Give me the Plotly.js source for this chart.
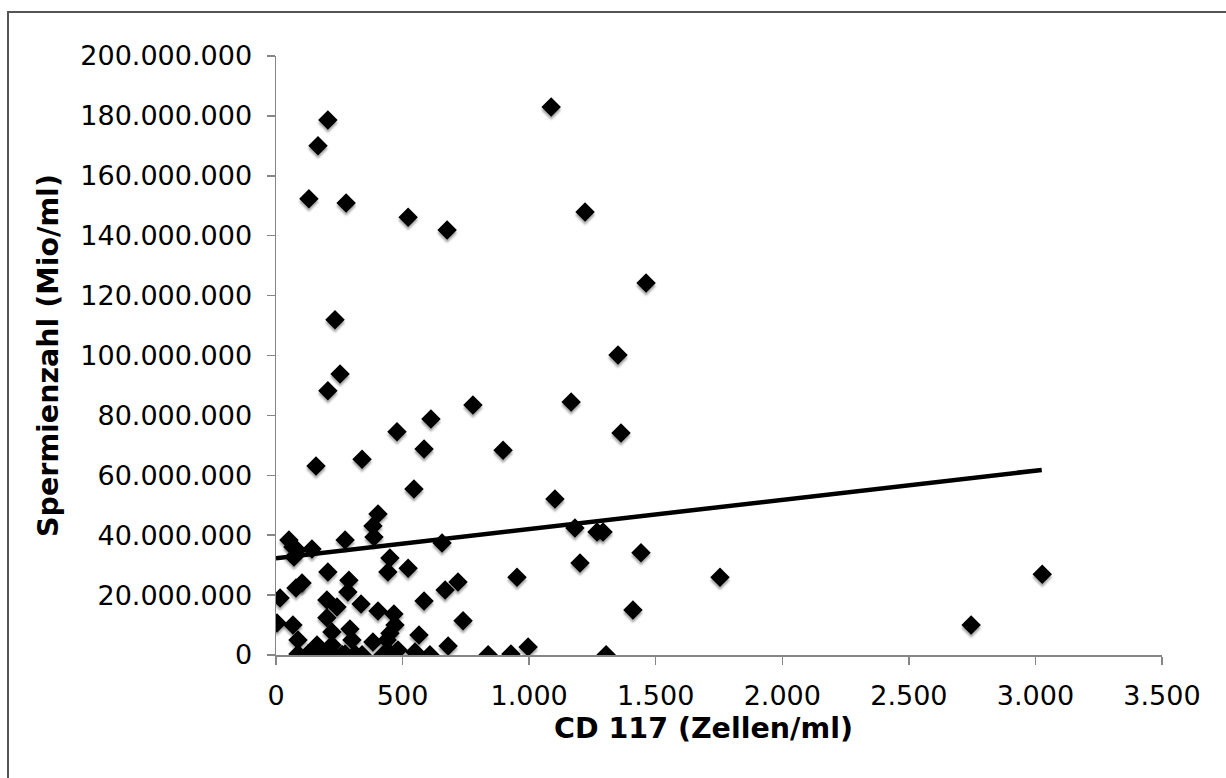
<!DOCTYPE html>
<html>
<head>
<meta charset="utf-8">
<script src="https://cdn.plot.ly/plotly-3.0.1.min.js"></script>
<style>
  html, body { margin: 0; padding: 0; background: #fff; }
  #wrap { position: relative; width: 1226px; height: 778px; overflow: hidden; }
  #chart { width: 1226px; height: 778px; }
  #frame { position: absolute; left: 7px; top: 11px; width: 1300px; height: 900px;
           border-left: 2px solid #555; border-top: 2px solid #555; pointer-events: none; }
  .scatterlayer .trace .points path { filter: drop-shadow(0px 3px 1px rgba(0,0,0,0.35)); }
</style>
</head>
<body>
<div id="wrap">
  <div id="chart"></div>
  <div id="frame"></div>
</div>
<script>
// CD 117 (Zellen/ml)
const cdX = [
  1087, 205, 166, 130, 277, 522, 676, 1221, 1462, 233,
  1351, 253, 205, 778, 1166, 612, 478, 1363, 585, 897,
  340, 158, 545, 1102, 403, 383, 387, 51, 67, 83,
  71, 142, 273, 656, 1181, 1268, 1292, 1201, 1442, 450,
  442, 522, 205, 103, 79, 288, 284, 16, 201, 241,
  336, 403, 585, 668, 719, 952, 1754, 3027, 2746, 1410,
  466, 201, 4, 67, 470, 739, 292, 450, 221, 87,
  300, 439, 565, 383, 162, 221, 680, 996, 482, 549,
  87, 126, 166, 186, 225, 273, 312, 340, 423, 450,
  608, 838, 928, 1304, 261
];
// Spermienzahl (Mio/ml)
const spermY = [
  183000000, 178600000, 170000000, 152300000, 150900000, 146200000, 141900000, 147900000, 124200000, 111900000,
  100200000, 93800000, 88200000, 83500000, 84500000, 78800000, 74500000, 74100000, 68800000, 68400000,
  65400000, 63100000, 55400000, 52100000, 47100000, 43100000, 39400000, 38400000, 36100000, 35100000,
  32700000, 35400000, 38400000, 37400000, 42400000, 41100000, 41100000, 30700000, 34100000, 32400000,
  27700000, 29000000, 27700000, 24000000, 22400000, 25000000, 21000000, 19000000, 18400000, 16000000,
  17000000, 14700000, 18000000, 21700000, 24400000, 26000000, 26000000, 27000000, 10000000, 15000000,
  13700000, 12400000, 10700000, 10000000, 10000000, 11400000, 8700000, 7300000, 7700000, 5000000,
  5000000, 5000000, 6700000, 4300000, 3300000, 3300000, 3000000, 2700000, 1700000, 1000000,
  300000, 300000, 300000, 200000, 300000, 300000, 300000, 100000, 100000, 600000,
  100000, 100000, 300000, 100000, 200000
];
// linear trend line endpoints
const trendX = [0, 3025];
const trendY = [32300000, 61800000];

const xTicks = [0, 500, 1000, 1500, 2000, 2500, 3000, 3500];
const yTicks = [0, 20000000, 40000000, 60000000, 80000000, 100000000, 120000000, 140000000, 160000000, 180000000, 200000000];

const xTitle = 'CD 117 (Zellen/ml)';
const yTitle = 'Spermienzahl (Mio/ml)';

const axisFont = { family: 'DejaVu Sans, Verdana, sans-serif', size: 27, color: '#000' };
const titleFont = { family: 'DejaVu Sans, Verdana, sans-serif', size: 28.5, color: '#000', weight: 'bold' };

const traces = [
  {
    x: cdX, y: spermY, type: 'scatter', mode: 'markers',
    marker: { symbol: 'diamond', size: 15, color: '#000', line: { width: 0 } },
    hoverinfo: 'x+y', showlegend: false
  },
  {
    x: trendX, y: trendY, type: 'scatter', mode: 'lines',
    line: { color: '#000', width: 4.5 }, showlegend: false, hoverinfo: 'skip'
  }
];

const layout = {
  width: 1226, height: 778,
  margin: { l: 276, r: 64, t: 56, b: 123 },
  paper_bgcolor: '#fff', plot_bgcolor: '#fff',
  separators: ',.',
  showlegend: false,
  xaxis: {
    range: [0, 3500], tickvals: xTicks, tickformat: ',d',
    showgrid: false, zeroline: false,
    showline: true, linecolor: '#868686', linewidth: 1.5,
    ticks: 'outside', ticklen: 8, tickcolor: '#868686', tickwidth: 1.5,
    tickfont: axisFont, ticklabelstandoff: 8
  },
  yaxis: {
    range: [0, 200000000], tickvals: yTicks, tickformat: ',d',
    showgrid: false, zeroline: false,
    showline: true, linecolor: '#868686', linewidth: 1.5,
    ticks: 'outside', ticklen: 8, tickcolor: '#868686', tickwidth: 1.5,
    tickfont: axisFont, ticklabelstandoff: 9,
    title: { text: yTitle, font: titleFont, standoff: 13 }
  },
  annotations: [
    {
      text: xTitle, font: titleFont, showarrow: false,
      xref: 'paper', yref: 'paper', x: 0.483, y: -0.123,
      xanchor: 'center', yanchor: 'middle', borderpad: 0
    }
  ]
};

Plotly.newPlot('chart', traces, layout, { displayModeBar: false, staticPlot: true });
</script>
</body>
</html>
